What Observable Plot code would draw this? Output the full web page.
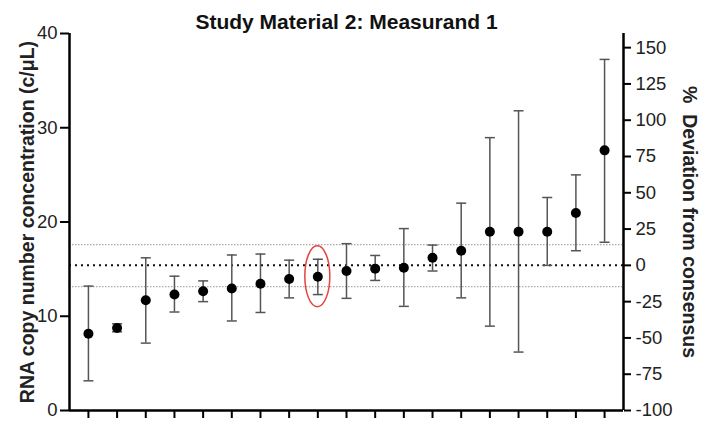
<!DOCTYPE html>
<html><head><meta charset="utf-8">
<script src="https://cdn.jsdelivr.net/npm/d3@7"></script>
<script src="https://cdn.jsdelivr.net/npm/@observablehq/plot@0.6"></script>
<style>body{margin:0;background:#fff}</style>
</head><body><div id="chart"></div>
<script>
const title = "Study Material 2: Measurand 1";
const yLabel = "RNA copy number concentration (c/μL)";
const y2Label = "%  Deviation from consensus";

// labs ranked by reported value
const labs  = [1, 2, 3, 4, 5, 6, 7, 8, 9, 10, 11, 12, 13, 14, 15, 16, 17, 18, 19];
const means = [8.15, 8.75, 11.7, 12.3, 12.65, 12.95, 13.45, 13.95, 14.2, 14.8, 15.05, 15.15, 16.2, 16.95, 18.97, 18.97, 18.97, 20.95, 27.6];
const lows  = [3.15, 8.35, 7.15, 10.45, 11.55, 9.5, 10.4, 11.95, 12.3, 11.9, 13.8, 11.05, 14.8, 11.95, 8.95, 6.2, 15.4, 16.95, 17.85];
const highs = [13.2, 9.2, 16.2, 14.25, 13.75, 16.5, 16.6, 15.95, 16.05, 17.7, 16.45, 19.3, 17.55, 22.0, 28.95, 31.8, 22.6, 25.0, 37.25];

const consensus = 15.4;
const limitLow = 13.15;
const limitHigh = 17.6;
const highlightedLab = 9;

const leftTicks = [0, 10, 20, 30, 40];
const rightTicks = [-100, -75, -50, -25, 0, 25, 50, 75, 100, 125, 150];

const data = labs.map((lab, i) => ({lab, mean: means[i], lo: lows[i], hi: highs[i]}));

const xDomain = [0.34, 19.66];
const font = "'Liberation Sans', Arial, Helvetica, sans-serif";

const capSymbol = {
  draw(context, size) {
    const w = Math.sqrt(size / Math.PI);
    context.moveTo(-w, 0);
    context.lineTo(w, 0);
  }
};

const ellipseMark = (index, scales) => {
  const g = d3.create("svg:g");
  const d = data.find(r => r.lab === highlightedLab);
  g.append("ellipse")
    .attr("cx", scales.x(d.lab))
    .attr("cy", scales.y(d.mean))
    .attr("rx", 12.5)
    .attr("ry", 30.5)
    .attr("fill", "none")
    .attr("stroke", "#e5443f")
    .attr("stroke-width", 1.5);
  return g.node();
};

const chart = Plot.plot({
  width: 703,
  height: 422,
  marginLeft: 69,
  marginRight: 80,
  marginTop: 33,
  marginBottom: 12,
  style: {fontFamily: font, fontSize: "18.5px", background: "#fff", color: "#000"},
  x: {type: "linear", domain: xDomain, axis: null},
  y: {domain: [0, 40], axis: null},
  marks: [
    Plot.ruleY([limitLow, limitHigh], {stroke: "#aaa", strokeWidth: 1.2, strokeDasharray: "1.5,1.5"}),
    Plot.ruleY([consensus], {stroke: "#111", strokeWidth: 2, strokeDasharray: "2,4"}),
    Plot.ruleX(data, {x: "lab", y1: "lo", y2: "hi", stroke: "#555", strokeWidth: 1.5}),
    Plot.dot(data, {x: "lab", y: "lo", symbol: capSymbol, r: 5, fill: "none", stroke: "#555", strokeWidth: 1.5}),
    Plot.dot(data, {x: "lab", y: "hi", symbol: capSymbol, r: 5, fill: "none", stroke: "#555", strokeWidth: 1.5}),
    Plot.dot(data, {x: "lab", y: "mean", r: 5, fill: "#000", stroke: "none"}),
    ellipseMark,
    Plot.ruleY([0], {stroke: "#000", strokeWidth: 2.5}),
    Plot.ruleX([xDomain[0]], {stroke: "#000", strokeWidth: 2.5}),
    Plot.ruleX([xDomain[1]], {stroke: "#000", strokeWidth: 2.5}),
    Plot.axisY(leftTicks, {anchor: "left", tickSize: 9, tickPadding: 3, strokeWidth: 2, label: null, fill: "#222"}),
    Plot.axisY(rightTicks.map(p => consensus * (1 + p / 100)), {
      anchor: "right", tickSize: 7, tickPadding: 5, strokeWidth: 2, label: null, fill: "#222",
      tickFormat: v => String(Math.round((v / consensus - 1) * 100))
    }),
    Plot.axisX(labs, {anchor: "bottom", tickSize: 8, strokeWidth: 2, tickFormat: () => "", label: null}),
    Plot.text([title], {frameAnchor: "top", textAnchor: "middle", lineAnchor: "middle", dy: -11.7, fontSize: 21, fontWeight: "bold", fill: "#111"}),
    Plot.text([yLabel], {frameAnchor: "left", textAnchor: "middle", lineAnchor: "middle", dx: -42, rotate: -90, fontSize: 19.5, fontWeight: "bold", fill: "#222"}),
    Plot.text([y2Label], {frameAnchor: "right", textAnchor: "middle", lineAnchor: "middle", dx: 66, rotate: 90, fontSize: 19.5, fontWeight: "bold", fill: "#222"})
  ]
});
document.getElementById("chart").append(chart);
</script>
</body></html>
